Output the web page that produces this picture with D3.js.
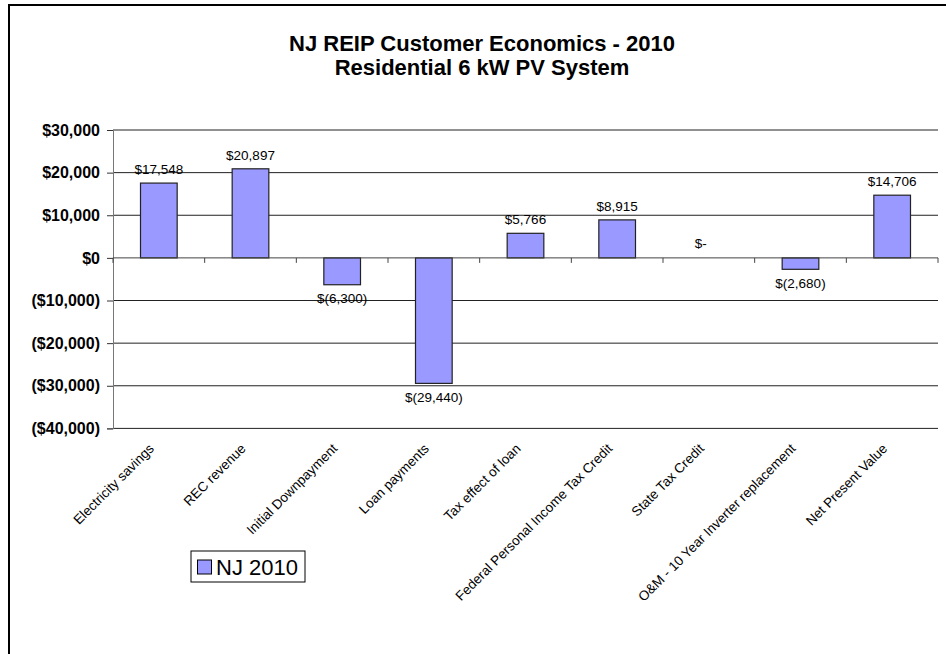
<!DOCTYPE html>
<html>
<head>
<meta charset="utf-8">
<script src="https://cdn.jsdelivr.net/npm/d3@7/dist/d3.min.js"></script>
<style>
  html, body { margin: 0; padding: 0; background: #fff; }
  svg { display: block; font-family: "Liberation Sans", Arial, sans-serif; }
</style>
</head>
<body>
<svg id="chart" width="946" height="654"></svg>
<script>
// Cash-flow components over the life of the system
const categories = [
  "Electricity savings",
  "REC revenue",
  "Initial Downpayment",
  "Loan payments",
  "Tax effect of loan",
  "Federal Personal Income Tax Credit",
  "State Tax Credit",
  "O&M - 10 Year Inverter replacement",
  "Net Present Value"
];
const values = [17548, 20897, -6300, -29440, 5766, 8915, 0, -2680, 14706];
const yTicks = [30000, 20000, 10000, 0, -10000, -20000, -30000, -40000];
const seriesName = "NJ 2010";
const titleLines = ["NJ REIP Customer Economics - 2010", "Residential 6 kW PV System"];

const svg = d3.select("#chart");
const plot = { left: 113, right: 938, top: 130, bottom: 428.4 };

// outer frame (open on the right and bottom edges)
svg.append("path")
  .attr("d", "M9,660 V5 H950")
  .attr("fill", "none").attr("stroke", "#000").attr("stroke-width", 2);

// title
const title = svg.append("text")
  .attr("text-anchor", "middle")
  .attr("font-weight", "bold")
  .attr("font-size", 22);
titleLines.forEach((t, i) => {
  title.append("tspan").attr("x", 482).attr("y", 51 + i * 24).text(t);
});

const x = d3.scaleBand()
  .domain(categories)
  .range([plot.left, plot.right])
  .paddingInner(0.6).paddingOuter(0.3);

const y = d3.scaleLinear()
  .domain([-40000, 30000])
  .range([plot.bottom, plot.top]);

const fmtAxis = v => {
  const s = "$" + d3.format(",")(Math.abs(v));
  return v < 0 ? "(" + s + ")" : s;
};
const fmtLabel = v => {
  if (v === 0) return "$-";
  const s = d3.format(",")(Math.abs(v));
  return v < 0 ? "$(" + s + ")" : "$" + s;
};

// horizontal gridlines
svg.append("g").selectAll("line")
  .data(yTicks.filter(v => v !== 0))
  .join("line")
  .attr("x1", plot.left).attr("x2", plot.right)
  .attr("y1", d => y(d)).attr("y2", d => y(d))
  .attr("stroke", "#222").attr("stroke-width", 1);

// y axis
const yAxis = svg.append("g")
  .attr("transform", `translate(${plot.left},0)`)
  .call(d3.axisLeft(y).tickValues(yTicks).tickFormat(fmtAxis).tickSize(6).tickPadding(7));
yAxis.select(".domain").attr("stroke", "#777");
yAxis.selectAll(".tick line").attr("stroke", "#333");
yAxis.selectAll(".tick text")
  .attr("font-family", "Liberation Sans, Arial, sans-serif")
  .attr("font-weight", "bold")
  .attr("font-size", 16)
  .attr("fill", "#000");

// bars
svg.append("g").selectAll("rect")
  .data(values.map((v, i) => ({ c: categories[i], v })))
  .join("rect")
  .attr("x", d => x(d.c))
  .attr("width", x.bandwidth())
  .attr("y", d => y(Math.max(0, d.v)))
  .attr("height", d => Math.abs(y(d.v) - y(0)))
  .attr("fill", "#9999ff")
  .attr("stroke", "#222")
  .attr("stroke-width", 1.2);

// category axis along zero
const step = x.step();
const xAxisG = svg.append("g");
xAxisG.append("line")
  .attr("x1", plot.left).attr("x2", plot.right)
  .attr("y1", y(0)).attr("y2", y(0))
  .attr("stroke", "#444").attr("stroke-width", 1);
xAxisG.selectAll("line.tick")
  .data(d3.range(categories.length + 1))
  .join("line").attr("class", "tick")
  .attr("x1", i => plot.left + i * step).attr("x2", i => plot.left + i * step)
  .attr("y1", y(0)).attr("y2", y(0) + 5)
  .attr("stroke", "#444");

// data labels
svg.append("g").selectAll("text")
  .data(values.map((v, i) => ({ c: categories[i], v })))
  .join("text")
  .attr("text-anchor", "middle")
  .attr("font-size", 13.5)
  .attr("fill", "#000")
  .attr("x", d => x(d.c) + x.bandwidth() / 2 + (d.v === 0 ? -8 : 0))
  .attr("y", d => d.v > 0 ? y(d.v) - 9 : d.v < 0 ? y(d.v) + 18.5 : y(0) - 10)
  .text(d => fmtLabel(d.v));

// rotated category labels
svg.append("g").selectAll("text")
  .data(categories)
  .join("text")
  .attr("text-anchor", "end")
  .attr("font-size", 13.5)
  .attr("fill", "#000")
  .attr("transform", d => `translate(${x(d) + x.bandwidth() / 2 - 4},${plot.bottom + 21}) rotate(-45)`)
  .text(d => d);

// legend
const lg = svg.append("g").attr("transform", "translate(191,551)");
lg.append("rect").attr("width", 114).attr("height", 31)
  .attr("fill", "#fff").attr("stroke", "#000").attr("stroke-width", 1);
lg.append("rect").attr("x", 6.5).attr("y", 9).attr("width", 14).attr("height", 14)
  .attr("fill", "#9999ff").attr("stroke", "#000").attr("stroke-width", 1);
lg.append("text").attr("x", 25).attr("y", 24)
  .attr("font-size", 22).attr("fill", "#000").text(seriesName);
</script>
</body>
</html>
